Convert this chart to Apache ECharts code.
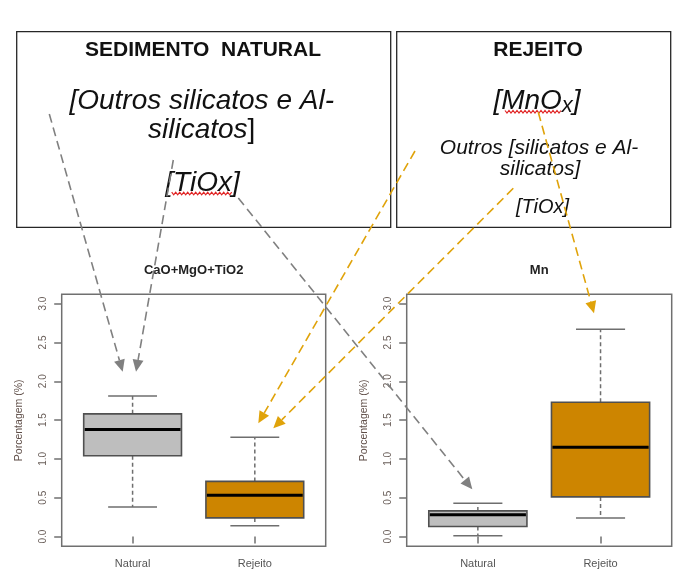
<!DOCTYPE html>
<html>
<head>
<meta charset="utf-8">
<script src="https://cdn.jsdelivr.net/npm/echarts@6/dist/echarts.min.js"></script>
<style>
  html, body { margin: 0; padding: 0; background: #fff; }
  #chart { width: 676px; height: 585px; }
</style>
</head>
<body>
<div id="chart"></div>
<script>
// Box-plot summaries: [lower whisker, Q1, median, Q3, upper whisker]
const categories = ['Natural', 'Rejeito'];
const caoNatural = [0.38, 1.04, 1.38, 1.58, 1.81];
const caoRejeito = [0.14, 0.24, 0.53, 0.71, 1.28];
const mnNatural = [0.01, 0.13, 0.28, 0.33, 0.43];
const mnRejeito = [0.24, 0.51, 1.15, 1.73, 2.67];
const yTicks = [0, 0.5, 1, 1.5, 2, 2.5, 3];
const panelTitles = ['CaO+MgO+TiO2', 'Mn'];

const FONT = '"Liberation Sans", Arial, sans-serif';
const boxFills = ['#BEBEBE', '#CD8500'];
const boxWex = 0.8;

const chart = echarts.init(document.getElementById('chart'), null, { renderer: 'canvas' });

function renderBox(params, api) {
  const x = api.value(0);
  const v = [1, 2, 3, 4, 5].map(d => api.value(d));
  const pLo = api.coord([x, v[0]]);
  const pQ1 = api.coord([x, v[1]]);
  const pMed = api.coord([x, v[2]]);
  const pQ3 = api.coord([x, v[3]]);
  const pHi = api.coord([x, v[4]]);
  const w = api.size([boxWex, 0])[0];
  const cw = w * 0.5;
  const cx = pLo[0];
  const whisk = { stroke: '#6e6e6e', lineWidth: 1.5, lineDash: [4, 3] };
  const cap = { stroke: '#6e6e6e', lineWidth: 1.5 };
  return {
    type: 'group',
    children: [
      { type: 'line', shape: { x1: cx, y1: pQ1[1], x2: cx, y2: pLo[1] }, style: whisk },
      { type: 'line', shape: { x1: cx, y1: pQ3[1], x2: cx, y2: pHi[1] }, style: whisk },
      { type: 'line', shape: { x1: cx - cw / 2, y1: pLo[1], x2: cx + cw / 2, y2: pLo[1] }, style: cap },
      { type: 'line', shape: { x1: cx - cw / 2, y1: pHi[1], x2: cx + cw / 2, y2: pHi[1] }, style: cap },
      { type: 'rect', shape: { x: cx - w / 2, y: pQ3[1], width: w, height: pQ1[1] - pQ3[1] },
        style: { fill: boxFills[x - 1], stroke: '#505050', lineWidth: 1.6 } },
      { type: 'line', shape: { x1: cx - w / 2 + 1, y1: pMed[1], x2: cx + w / 2 - 1, y2: pMed[1] },
        style: { stroke: '#000', lineWidth: 3 } }
    ]
  };
}

const grids = [
  { left: 61.7, right: 350.3, top: 294.3, bottom: 38.7 },
  { left: 406.7, right: 4.3, top: 294.3, bottom: 38.7 }
].map(g => Object.assign(g, { show: true, borderColor: '#707070', borderWidth: 1.5, backgroundColor: 'transparent' }));

const xAxes = [0, 1].map(i => ({
  gridIndex: i, type: 'value', min: 0.42, max: 2.58,
  axisLine: { show: false },
  splitLine: { show: false },
  axisTick: { show: true, length: 7, customValues: [1, 2], lineStyle: { color: '#707070', width: 1.5 } },
  axisLabel: { customValues: [1, 2], margin: 12, formatter: v => categories[Math.round(v) - 1],
    color: '#555', fontSize: 11, fontFamily: FONT }
}));

const yAxes = [0, 1].map(i => ({
  gridIndex: i, type: 'value', min: -0.126, max: 3.12,
  axisLine: { show: false },
  splitLine: { show: false },
  axisTick: { show: true, length: 7.5, customValues: yTicks, lineStyle: { color: '#707070', width: 1.5 } },
  axisLabel: { customValues: yTicks, rotate: 90, margin: 13, formatter: v => v.toFixed(1),
    color: '#6a5f5a', fontSize: 10, fontFamily: FONT },
  name: 'Porcentagem (%)', nameLocation: 'middle', nameGap: 37,
  nameTextStyle: { color: '#5e4d47', fontSize: 10.5, fontFamily: FONT }
}));

const panelData = [
  [[1, ...caoNatural], [2, ...caoRejeito]],
  [[1, ...mnNatural], [2, ...mnRejeito]]
];

const series = panelData.map((d, i) => ({
  type: 'custom', xAxisIndex: i, yAxisIndex: i,
  renderItem: renderBox,
  encode: { x: 0, y: [1, 2, 3, 4, 5] },
  data: d, z: 2
}));

// Annotation arrows (dashed with filled heads)
function arrow(x1, y1, x2, y2, color) {
  const dx = x2 - x1, dy = y2 - y1, L = Math.hypot(dx, dy);
  const ux = dx / L, uy = dy / L;
  const hl = 12, hw = 5.5;
  const bx = x2 - ux * hl, by = y2 - uy * hl;
  return [
    { type: 'line', z: 100, shape: { x1, y1, x2: bx, y2: by },
      style: { stroke: color, lineWidth: 1.6, lineDash: [9, 5] } },
    { type: 'polygon', z: 100,
      shape: { points: [[x2, y2], [bx - uy * hw, by + ux * hw], [bx + uy * hw, by - ux * hw]] },
      style: { fill: color } }
  ];
}

// Red spell-check style wavy underline
function squiggle(x0, x1, y) {
  const pts = [];
  let k = 0;
  for (let x = x0; x <= x1; x += 2, k++) pts.push([x, y + (k % 2 ? 1.3 : -1.3)]);
  return { type: 'polyline', z: 90, shape: { points: pts }, style: { stroke: '#e02424', lineWidth: 1.2, fill: null } };
}

function txt(x, y, text, size, font) {
  return {
    type: 'text', z: 80, x, y,
    style: { text, fill: '#111', font: font || ('italic ' + size + 'px ' + FONT),
      align: 'center', verticalAlign: 'middle' }
  };
}

const GRAY = '#808080', GOLD = '#E0A30A';

const graphic = [
  { type: 'rect', z: 70, shape: { x: 16.7, y: 31.7, width: 374, height: 195.6 },
    style: { fill: 'none', stroke: '#262626', lineWidth: 1.3 } },
  { type: 'rect', z: 70, shape: { x: 396.7, y: 31.7, width: 274, height: 195.6 },
    style: { fill: 'none', stroke: '#262626', lineWidth: 1.3 } },

  txt(203, 50.5, 'SEDIMENTO  NATURAL', 21, 'bold 21px ' + FONT),
  txt(201.7, 101, '[Outros silicatos e Al-', 28),
  { type: 'text', z: 80, x: 201.7, y: 130.5,
    style: { text: '{i|silicatos}{n|]}', align: 'center', verticalAlign: 'middle',
      rich: { i: { font: 'italic 28px ' + FONT, fill: '#111' }, n: { font: '28px ' + FONT, fill: '#111' } } } },
  txt(202.5, 183, '[TiOx]', 28),
  squiggle(171.7, 233.3, 193.5),

  txt(538, 50.5, 'REJEITO', 21, 'bold 21px ' + FONT),
  { type: 'text', z: 80, x: 537, y: 101.7,
    style: { text: '{m|[MnO}{s|x}{m|]}', align: 'center', verticalAlign: 'middle',
      rich: { m: { font: 'italic 28px ' + FONT, fill: '#111', lineHeight: 30 },
              s: { font: 'italic 22px ' + FONT, fill: '#111', lineHeight: 30, verticalAlign: 'bottom' } } } },
  squiggle(505, 561.7, 111.8),
  txt(539, 148.3, 'Outros [silicatos e Al-', 21),
  txt(540, 169, 'silicatos]', 21),
  txt(542.5, 207.7, '[TiOx]', 20),

  ...arrow(49.3, 114, 122.7, 371.7, GRAY),
  ...arrow(173.3, 160, 136, 371.7, GRAY),
  ...arrow(238.3, 198, 472.3, 489.3, GRAY),
  ...arrow(415, 151, 258.3, 423.3, GOLD),
  ...arrow(513.3, 188.3, 273.3, 428.3, GOLD),
  ...arrow(538.3, 112.3, 594, 313.3, GOLD)
];

chart.setOption({
  animation: false,
  backgroundColor: '#fff',
  title: [
    { text: panelTitles[0], left: 193.7, top: 264, textAlign: 'center', padding: 0,
      textStyle: { fontSize: 13, fontWeight: 'bold', color: '#222', fontFamily: FONT } },
    { text: panelTitles[1], left: 539.2, top: 263.5, textAlign: 'center', padding: 0,
      textStyle: { fontSize: 13, fontWeight: 'bold', color: '#222', fontFamily: FONT } }
  ],
  grid: grids,
  xAxis: xAxes,
  yAxis: yAxes,
  series,
  graphic
});
</script>
</body>
</html>
